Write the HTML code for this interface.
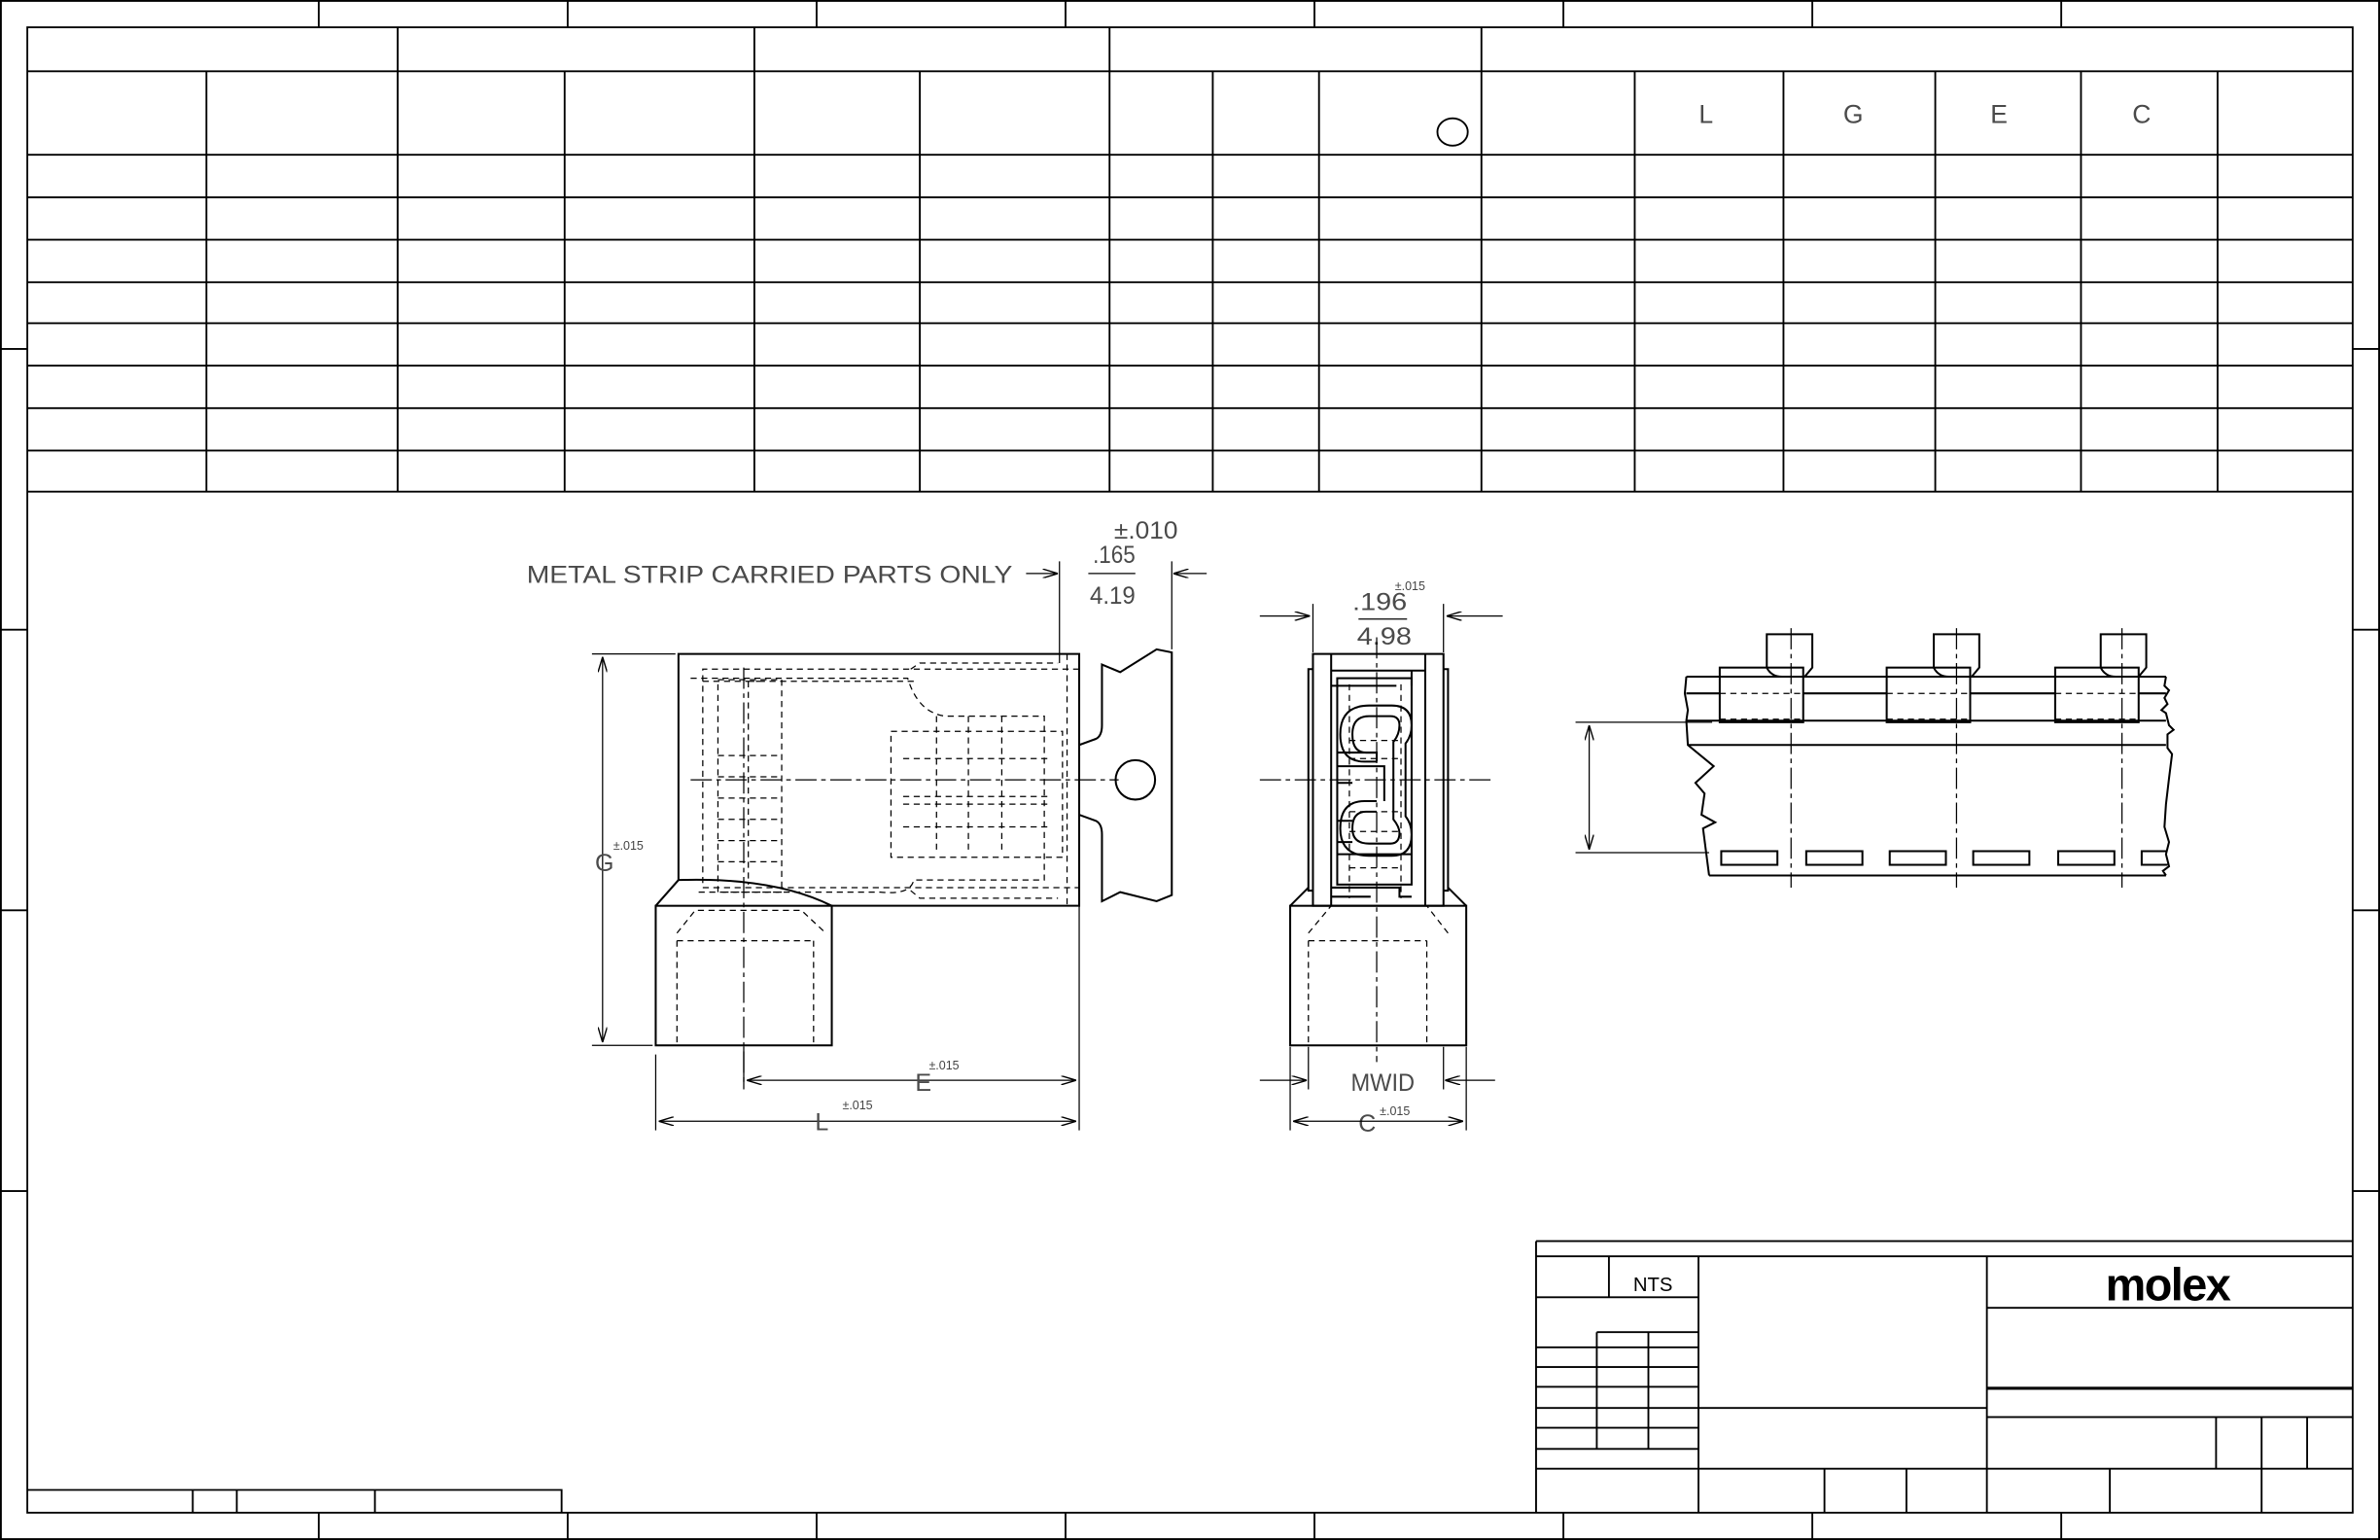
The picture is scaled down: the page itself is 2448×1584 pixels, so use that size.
<!DOCTYPE html>
<html><head><meta charset="utf-8"><style>
html,body{margin:0;padding:0;background:#fff;}
svg{display:block;}
text{font-family:"Liberation Sans",sans-serif;}
.t{font-size:16px;fill:#4a4a4a;font-weight:normal;}
.s{font-size:8px;fill:#444;}
</style></head><body>
<svg width="2448" height="1584" viewBox="0 0 1568 1015" preserveAspectRatio="none" xmlns="http://www.w3.org/2000/svg">
<defs>
<marker id="a" viewBox="0 0 10 6" refX="10" refY="3" markerWidth="10" markerHeight="6" orient="auto-start-reverse" markerUnits="userSpaceOnUse"><path d="M0,0 L10,3 L0,6" fill="none" stroke="#000" stroke-width="0.9"/></marker>
</defs>
<rect x="0" y="0" width="1568" height="1015" fill="#fff"/>
<g stroke="#000" stroke-width="1.2" fill="none">
<rect x="0.6" y="0.6" width="1566.8" height="1013.8"/>
<rect x="18" y="18" width="1532" height="979"/>
<path d="M210,0V18M374,0V18M538,0V18M702,0V18M866,0V18M1030,0V18M1194,0V18M1358,0V18
M210,997V1015M374,997V1015M538,997V1015M702,997V1015M866,997V1015M1030,997V1015M1194,997V1015M1358,997V1015
M0,230H18M0,415H18M0,600H18M0,785H18M1550,230H1568M1550,415H1568M1550,600H1568M1550,785H1568"/>
<path d="M18,47H1550M18,102H1550M18,130H1550M18,158H1550M18,186H1550M18,213H1550M18,241H1550M18,269H1550M18,297H1550M18,324H1550"/>
<path d="M262,18V324M497,18V324M731,18V324M976,18V324"/>
<path d="M136,47V324M372,47V324M606,47V324M799,47V324M869,47V324M1077,47V324M1175,47V324M1275,47V324M1371,47V324M1461,47V324"/>
<ellipse cx="957" cy="87" rx="10" ry="9"/>
<path d="M18,982H370V997M127,982V997M156,982V997M247,982V997"/>
<path d="M1012,818H1550M1012,828H1550M1012,818V997M1119,828V997M1309,828V997"/>
<path d="M1060,828V855M1012,855H1119M1052,878H1119M1012,888H1119M1012,901H1119M1012,914H1119M1012,928H1119M1012,941H1119M1012,955H1119M1052,878V955M1086,878V955M1012,968H1550"/>
<path d="M1119,928H1309M1202,968V997M1256,968V997"/>
<path d="M1309,862H1550M1309,934H1550M1460,934V968M1490,934V968M1520,934V968M1390,968V997M1490,968V997"/>
<path d="M1309,915H1550" stroke-width="2"/>
</g>
<g class="t" style="font-size:17px" fill="#555">
<text x="1124" y="81" text-anchor="middle">L</text>
<text x="1221" y="81" text-anchor="middle">G</text>
<text x="1317" y="81" text-anchor="middle">E</text>
<text x="1411" y="81" text-anchor="middle">C</text>
</g>
<text x="1089" y="851" text-anchor="middle" style="font-size:13px" fill="#000">NTS</text>
<text x="1428" y="857" text-anchor="middle" style="font-size:30px;font-weight:bold;letter-spacing:-1px" fill="#000">molex</text>

<!-- LEFT VIEW -->
<g stroke="#000" stroke-width="1.3" fill="none">
<path d="M447,580V431H711V597H548"/>
<path d="M432,597L447,580Q510,578 548,597"/>
<rect x="432" y="597" width="116" height="92"/>
<path d="M711,491L722,487Q726,485 726,478V438L738,443L762,428L772,430V590L762,594L738,588L726,594V550Q726,543 722,541L711,537"/>
<circle cx="748" cy="514" r="13"/>
</g>
<g stroke="#000" stroke-width="0.8" fill="none" stroke-dasharray="4,3">
<path d="M711,441H463V585H711M493,449H605M493,449V583M463,449H500M703,431V597"/>
<rect x="473" y="448" width="42" height="140"/>
<path d="M455,447H598Q605,470 623,472H688V580H602Q600,590 580,588H460"/>
<path d="M587,482H700V565H587Z M595,500H690M595,525H690M595,530H690M595,545H690"/>
<path d="M617,472V560M638,472V560M660,472V560"/>
<path d="M473,498H513M473,512H513M473,526H513M473,540H513M473,554H513M473,568H513"/>
<path d="M446,615L458,600H528L544,615M446,620V689M536,620V689M446,620H536"/>
<path d="M600,441L606,437H697"/>
<path d="M600,587L606,592H697"/>
</g>
<g stroke="#000" stroke-width="0.8" fill="none" stroke-dasharray="14,3,3,3">
<path d="M455,514H737M490,440V715"/>
</g>
<g stroke="#000" stroke-width="0.8" fill="none">
<path d="M390,431H445M390,689H430M432,695V745M490,690V718M711,597V745M698,370V437M772,370V428"/>
<path d="M397,433V687" marker-start="url(#a)" marker-end="url(#a)"/>
<path d="M492,712H709" marker-start="url(#a)" marker-end="url(#a)"/>
<path d="M434,739H709" marker-start="url(#a)" marker-end="url(#a)"/>
<path d="M676,378H697" marker-end="url(#a)"/>
<path d="M795,378H773" marker-end="url(#a)"/>
<path d="M717,378H748"/>
</g>
<g class="t">
<text x="347" y="384" textLength="320" lengthAdjust="spacingAndGlyphs">METAL STRIP CARRIED PARTS ONLY</text>
<text x="720" y="371" textLength="28" lengthAdjust="spacingAndGlyphs">.165</text>
<text x="718" y="398" textLength="30" lengthAdjust="spacingAndGlyphs">4.19</text>
<text x="734" y="355" textLength="42" lengthAdjust="spacingAndGlyphs">±.010</text>
<text x="392" y="574">G</text>
<text x="603" y="719">E</text>
<text x="537" y="745">L</text>
<text x="891" y="402" textLength="36" lengthAdjust="spacingAndGlyphs">.196</text>
<text x="894" y="425" textLength="36" lengthAdjust="spacingAndGlyphs">4.98</text>
<text x="890" y="719" textLength="42" lengthAdjust="spacingAndGlyphs">MWID</text>
<text x="895" y="746">C</text>
</g>
<g class="s">
<text x="404" y="560">±.015</text>
<text x="612" y="705">±.015</text>
<text x="555" y="731">±.015</text>
<text x="919" y="389">±.015</text>
<text x="909" y="735">±.015</text>
</g>

<!-- MIDDLE VIEW -->
<g stroke="#000" stroke-width="1.3" fill="none">
<rect x="865" y="431" width="86" height="166"/>
<path d="M865,441H862V587H865M951,441H954V587H951"/>
<path d="M850,597L862,585M966,597L954,585"/>
<rect x="850" y="597" width="116" height="92"/>
<path d="M877,431V597M939,431V597M877,442H918M877,452H920M930,442V452M918,442H939"/>
<rect x="881" y="447" width="49" height="136"/>
<path d="M907,502H899Q883,502 883,484Q883,465 902,465H917Q930,465 930,478Q930,485 926,490V538Q930,543 930,550Q930,564 917,564H902Q883,564 883,546Q883,528 899,528H907"/>
<path d="M907,496H900Q891,496 891,484Q891,472 902,472H916Q922,472 922,478Q922,484 918,489V540Q922,545 922,549Q922,556 916,556H902Q891,556 891,546Q891,535 900,535H907"/>
<path d="M881,496H907V502M881,505H912V528M881,516H891M881,541H891M881,555H891M881,563H930"/>
<path d="M877,585H922V591H930M877,591H903"/>
</g>
<g stroke="#000" stroke-width="0.8" fill="none" stroke-dasharray="4,3">
<path d="M889,451V592M923,451V592M889,488H923M889,500H923M889,535H923M889,548H923M889,572H923"/>
<path d="M862,615L877,597M954,615L940,597M862,620V689M940,620V689M862,620H940"/>
</g>
<g stroke="#000" stroke-width="0.8" fill="none" stroke-dasharray="14,3,3,3">
<path d="M830,514H985M907,420V700"/>
</g>
<g stroke="#000" stroke-width="0.8" fill="none">
<path d="M865,398V430M951,398V430M862,690V718M951,690V718M850,690V745M966,690V745"/>
<path d="M830,406H863" marker-end="url(#a)"/>
<path d="M990,406H953" marker-end="url(#a)"/>
<path d="M895,408H927"/>
<path d="M830,712H861" marker-end="url(#a)"/>
<path d="M985,712H952" marker-end="url(#a)"/>
<path d="M852,739H964" marker-start="url(#a)" marker-end="url(#a)"/>
</g>

<!-- RIGHT VIEW -->
<g stroke="#000" stroke-width="1.3" fill="none">
<path d="M1111,446H1427M1111,457H1133M1188,457H1243M1298,457H1354M1409,457H1427M1111,475H1427M1112,491H1427M1126,577H1427"/>
<path d="M1111,446L1110,457L1112,468L1111,475L1112,491L1129,505L1117,516L1123,523L1121,537L1130,542L1122,546L1126,577"/>
<path d="M1427,446L1426,452L1429,455L1426,460L1428,464L1424,468L1427,470L1429,478L1432,481L1428,484L1428,493L1431,497L1429,513L1427,530L1426,545L1429,555L1427,563L1429,571L1425,574L1427,577"/>
<rect x="1133" y="440" width="55" height="36"/>
<rect x="1243" y="440" width="55" height="36"/>
<rect x="1354" y="440" width="55" height="36"/>
<path d="M1164,440V418H1194V440L1189,446M1164,440Q1167,446 1174,446"/>
<path d="M1274,440V418H1304V440L1299,446M1274,440Q1277,446 1284,446"/>
<path d="M1384,440V418H1414V440L1409,446M1384,440Q1387,446 1394,446"/>
<rect x="1134" y="561" width="37" height="9"/>
<rect x="1190" y="561" width="37" height="9"/>
<rect x="1245" y="561" width="37" height="9"/>
<rect x="1300" y="561" width="37" height="9"/>
<rect x="1356" y="561" width="37" height="9"/>
<path d="M1428,561H1411V570H1428"/>
</g>
<g stroke="#000" stroke-width="0.8" fill="none" stroke-dasharray="4,3">
<path d="M1133,457H1188M1243,457H1298M1354,457H1409M1133,474H1188M1243,474H1298M1354,474H1409"/>
</g>
<g stroke="#000" stroke-width="0.8" fill="none" stroke-dasharray="14,3,3,3">
<path d="M1180,414V585M1289,414V585M1398,414V585"/>
</g>
<g stroke="#000" stroke-width="0.8" fill="none">
<path d="M1038,476H1128M1038,562H1126"/>
<path d="M1047,478V560" marker-start="url(#a)" marker-end="url(#a)"/>
</g>
</svg>
</body></html>
